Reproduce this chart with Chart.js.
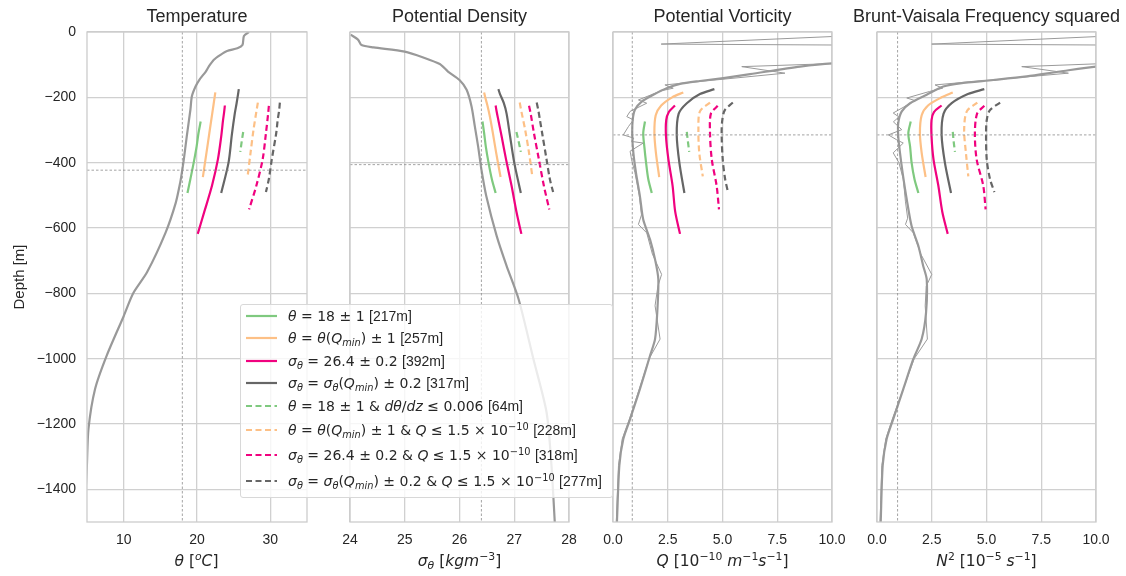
<!DOCTYPE html>
<html>
<head>
<meta charset="utf-8">
<script src="https://cdn.jsdelivr.net/npm/chart.js@4.4.1/dist/chart.umd.min.js"></script>
<style>
  body { margin: 0; background: #fff; }
  #wrap { position: relative; width: 1126px; height: 576px; overflow: hidden; }
  #wrap canvas { position: absolute; left: 0; top: 0; }
  .xt { position: absolute; top: 552px; width: 219px; text-align: center; font: 15.5px 'DejaVu Sans'; line-height: 18px; color: #262626; white-space: nowrap; }
  #legend { position: absolute; left: 240px; top: 304px; width: 371px; height: 192px; background: rgba(255,255,255,0.8); border: 1px solid #d8d8d8; border-radius: 3px; }
  .row { position: absolute; left: 5px; height: 20px; display: flex; align-items: center; white-space: nowrap; font: 14px 'DejaVu Sans'; color: #262626; }
  .row svg { margin-right: 11px; flex: none; }
  .t { font-family: 'Liberation Sans'; }
  sub, sup { font-size: 70%; line-height: 0; }
  sub { vertical-align: -0.3em; }
  sup { vertical-align: 0.55em; }
</style>
</head>
<body>
<div id="wrap">
  <canvas id="c0" width="1126" height="576"></canvas>
  <canvas id="c1" width="1126" height="576"></canvas>
  <canvas id="c2" width="1126" height="576"></canvas>
  <canvas id="c3" width="1126" height="576"></canvas>
  <div class="xt" style="left:87px"><i>θ</i> [<sup><i>o</i></sup><i>C</i>]</div>
  <div class="xt" style="left:350px"><i>σ</i><sub><i>θ</i></sub> [<i>kgm</i><sup>−3</sup>]</div>
  <div class="xt" style="left:613px"><i>Q</i> [10<sup>−10</sup> <i>m</i><sup>−1</sup><i>s</i><sup>−1</sup>]</div>
  <div class="xt" style="left:877px"><i>N</i><sup>2</sup> [10<sup>−5</sup> <i>s</i><sup>−1</sup>]</div>
  <div id="legend"></div>
</div>
<script>
/* 데이터 */
const panelTitles = ['Temperature', 'Potential Density', 'Potential Vorticity', 'Brunt-Vaisala Frequency squared'];
const depthTicks = [0, -200, -400, -600, -800, -1000, -1200, -1400];
const depthLabels = ['0', '−200', '−400', '−600', '−800', '−1000', '−1200', '−1400'];
const tempTicks = [10, 20, 30];
const densTicks = [24, 25, 26, 27, 28];
const pvTicks = [0, 2.5, 5, 7.5, 10];
const pvLabels = ['0.0', '2.5', '5.0', '7.5', '10.0'];

// 전체 프로파일
const tempDepth = [0, -12, -40, -50, -58, -70, -85, -106, -121, -147, -167, -197, -238, -320, -391, -421, -462, -523, -615, -735, -800, -870, -990, -1093, -1215, -1330, -1500];
const tempVal = [27.1, 26.4, 26.2, 25.5, 24.1, 23.2, 22.3, 21.6, 21.2, 20.3, 19.8, 19.3, 19.1, 18.6, 18.2, 18.0, 17.7, 17.1, 15.7, 13.2, 11.3, 10.0, 7.7, 6.1, 5.2, 4.98, 4.6];
const densDepth = [-8, -24, -40, -47, -60, -78, -98, -121, -147, -177, -228, -289, -350, -421, -503, -625, -716, -818, -1001, -1164, -1327, -1500];
const densVal = [24.01, 24.15, 24.21, 24.43, 25.0, 25.34, 25.64, 25.79, 26.0, 26.13, 26.22, 26.28, 26.34, 26.40, 26.49, 26.68, 26.86, 27.08, 27.35, 27.59, 27.68, 27.74];
const pvDepth = [0, -60, -96, -106, -129, -141, -150, -159, -172, -192, -213, -238, -269, -315, -370, -431, -503, -574, -635, -696, -757, -859, -940, -991, -1093, -1185, -1246, -1327, -1500];
const pvVal = [25, 20, 10, 8.54, 6.26, 5.04, 3.97, 3.06, 2.45, 1.84, 1.31, 1.0, 0.9, 0.88, 0.93, 1.05, 1.23, 1.38, 1.69, 1.92, 2.07, 2.02, 1.92, 1.69, 1.23, 0.78, 0.47, 0.29, 0.18];
const pvRawDepth = [-5, -37, -42, -90, -106, -126, -162, -172, -180, -208, -218, -243, -259, -269, -290, -315, -325, -335, -340, -365, -391, -430, -500, -560, -589, -615, -680, -742, -778, -838, -940, -1000, -1093, -1185, -1246, -1327, -1500];
const pvRaw = [13, 2.2, 16, 13, 5.88, 7.85, 2.37, 2.75, 2.2, 1.16, 1.54, 0.78, 0.63, 0.93, 0.7, 0.47, 0.95, 0.85, 1.38, 0.78, 0.85, 1.0, 1.2, 1.3, 1.16, 1.54, 1.8, 2.22, 2.05, 1.92, 2.15, 1.65, 1.2, 0.75, 0.42, 0.25, 0.15];
const n2Depth = [0, -60, -106, -121, -136, -147, -157, -167, -192, -218, -243, -279, -320, -370, -431, -513, -594, -655, -716, -757, -859, -940, -1001, -1093, -1185, -1246, -1327, -1500];
const n2Val = [25, 20, 10, 8.36, 6.84, 5.31, 3.79, 3.03, 2.27, 1.51, 1.13, 0.97, 0.97, 1.05, 1.17, 1.36, 1.58, 1.89, 2.11, 2.27, 2.24, 2.04, 1.66, 1.20, 0.74, 0.44, 0.26, 0.17];
const n2RawDepth = [-5, -37, -42, -90, -106, -126, -162, -172, -182, -202, -210, -248, -260, -275, -299, -315, -330, -340, -370, -400, -450, -520, -570, -589, -615, -680, -742, -778, -838, -940, -1000, -1093, -1185, -1246, -1327, -1500];
const n2Raw = [13, 2.5, 16, 13, 6.61, 8.74, 2.65, 3.0, 2.4, 1.36, 1.74, 0.74, 1.0, 0.75, 1.13, 0.52, 0.9, 1.2, 0.74, 1.0, 1.2, 1.3, 1.4, 1.3, 1.66, 2.0, 2.5, 2.25, 2.2, 2.3, 1.7, 1.2, 0.7, 0.4, 0.22, 0.14];

// 기준선 (세로값, 가로 깊이)
const refValue = [18, 26.4, 0.88, 0.94];
const refDepth = [-423, -406, -315, -315];

// 구간별 깊이
const depthG = [-274, -310, -350, -400, -450, -493];
const depthO = [-185, -200, -225, -255, -310, -370, -444];
const depthP = [-225, -245, -270, -320, -390, -470, -550, -618];
const depthD = [-175, -190, -218, -250, -315, -400, -493];
const depthGD = [-306, -335, -367];
const depthOD = [-216, -243, -300, -370, -442];
const depthPD = [-226, -250, -310, -390, -470, -543];
const depthDD = [-216, -240, -270, -310, -390, -450, -490];

// 온도 구간
const tG = [20.5, 20.2, 19.95, 19.55, 19.1, 18.7];
const tO = [22.5, 22.4, 22.24, 22.04, 21.68, 21.29, 20.8];
const tP = [23.8, 23.7, 23.55, 23.3, 22.85, 22.05, 21.0, 20.1];
const tD = [25.7, 25.6, 25.4, 25.15, 24.75, 24.3, 23.3];
const tGD = [26.3, 26.1, 25.9];
const tOD = [28.3, 28.1, 27.7, 27.3, 26.9];
const tPD = [29.8, 29.7, 29.4, 28.95, 28.1, 27.1];
const tDD = [31.3, 31.2, 31.0, 30.8, 30.2, 29.8, 29.4];
// 밀도 구간
const dG = [26.42, 26.45, 26.48, 26.53, 26.59, 26.66];
const dO = [26.45, 26.47, 26.51, 26.55, 26.61, 26.67, 26.75];
const dP = [26.66, 26.68, 26.71, 26.77, 26.85, 26.95, 27.04, 27.13];
const dD = [26.71, 26.74, 26.81, 26.86, 26.92, 27.0, 27.12];
const dGD = [27.04, 27.08, 27.12];
const dOD = [27.10, 27.13, 27.2, 27.27, 27.33];
const dPD = [27.27, 27.3, 27.36, 27.45, 27.54, 27.64];
const dDD = [27.41, 27.44, 27.47, 27.51, 27.59, 27.65, 27.71];
// 와도 구간
const qG = [1.46, 1.38, 1.43, 1.51, 1.61, 1.77];
const qO = [3.21, 2.7, 2.2, 1.95, 1.89, 1.96, 2.11];
const qP = [2.83, 2.55, 2.43, 2.42, 2.53, 2.72, 2.84, 3.06];
const qD = [4.63, 3.97, 3.37, 3.0, 2.91, 3.03, 3.26];
const qGD = [3.37, 3.42, 3.48];
const qOD = [4.43, 3.97, 3.90, 3.94, 4.10];
const qPD = [4.78, 4.47, 4.43, 4.51, 4.73, 4.84];
const qDD = [5.47, 5.1, 4.99, 4.96, 5.01, 5.12, 5.25];
// N2 구간
const nG = [1.54, 1.43, 1.51, 1.58, 1.71, 1.89];
const nO = [3.46, 2.95, 2.33, 2.04, 1.96, 2.04, 2.22];
const nP = [2.95, 2.6, 2.49, 2.49, 2.58, 2.8, 2.98, 3.23];
const nD = [4.9, 4.15, 3.41, 3.04, 2.95, 3.1, 3.38];
const nGD = [3.46, 3.5, 3.56];
const nOD = [4.58, 4.10, 3.98, 4.06, 4.17];
const nPD = [4.90, 4.57, 4.47, 4.55, 4.85, 4.96];
const nDD = [5.62, 5.15, 5.01, 4.98, 5.01, 5.16, 5.36];

const legendLabels = [
  '<i>θ</i> = 18 ± 1 <span class="t">[217m]</span>',
  '<i>θ</i> = <i>θ</i>(<i>Q</i><sub><i>min</i></sub>) ± 1 <span class="t">[257m]</span>',
  '<i>σ</i><sub><i>θ</i></sub> = 26.4 ± 0.2 <span class="t">[392m]</span>',
  '<i>σ</i><sub><i>θ</i></sub> = <i>σ</i><sub><i>θ</i></sub>(<i>Q</i><sub><i>min</i></sub>) ± 0.2 <span class="t">[317m]</span>',
  '<i>θ</i> = 18 ± 1 &amp; <i>dθ</i>/<i>dz</i> ≤ 0.006 <span class="t">[64m]</span>',
  '<i>θ</i> = <i>θ</i>(<i>Q</i><sub><i>min</i></sub>) ± 1 &amp; <i>Q</i> ≤ 1.5 × 10<sup>−10</sup> <span class="t">[228m]</span>',
  '<i>σ</i><sub><i>θ</i></sub> = 26.4 ± 0.2 &amp; <i>Q</i> ≤ 1.5 × 10<sup>−10</sup> <span class="t">[318m]</span>',
  '<i>σ</i><sub><i>θ</i></sub> = <i>σ</i><sub><i>θ</i></sub>(<i>Q</i><sub><i>min</i></sub>) ± 0.2 &amp; <i>Q</i> ≤ 1.5 × 10<sup>−10</sup> <span class="t">[277m]</span>'
];

/* 스타일 / 배치 */
const W = 1126;
const panelLeft = [87, 350, 613, 877];
const panelRight = [307, 569, 832, 1096];
const legendRowTop = [0.7, 23.3, 45.7, 68.3, 90.7, 114.5, 140, 165.7];
const segColor = ['#7fc97f', '#fdc086', '#f0027f', '#666666', '#7fc97f', '#fdc086', '#f0027f', '#666666'];
const segDash = [[], [], [], [], [6, 3.5], [6, 3.5], [6, 3.5], [6, 3.5]];
const segDepths = [depthG, depthO, depthP, depthD, depthGD, depthOD, depthPD, depthDD];
const textColor = '#262626';
const gridColor = '#d0d0d0';

Chart.defaults.font.family = "'Liberation Sans', Arial, sans-serif";

function xy(depth, vals) {
  return depth.map((d, i) => ({ x: vals[i], y: d }));
}

// 테두리 (4면)
const frame = {
  id: 'frame',
  afterDatasetsDraw(chart) {
    const a = chart.chartArea, ctx = chart.ctx;
    ctx.save();
    ctx.strokeStyle = '#cccccc';
    ctx.lineWidth = 1.3;
    ctx.strokeRect(a.left, a.top, a.right - a.left, a.bottom - a.top);
    ctx.restore();
  }
};

// 패널 제목 (너비 제한 없이)
const panelTitle = {
  id: 'panelTitle',
  afterDraw(chart, args, opts) {
    const a = chart.chartArea, ctx = chart.ctx;
    ctx.save();
    ctx.font = "18px 'Liberation Sans', Arial, sans-serif";
    ctx.fillStyle = textColor;
    ctx.textAlign = 'center';
    ctx.textBaseline = 'middle';
    ctx.fillText(opts.text, (a.left + a.right) / 2, 17);
    ctx.restore();
  }
};

function makePanel(i, xMin, xMax, xTicks, xLabels, raw, profile, segVals) {
  const ds = [];
  // 기준선
  ds.push({ data: [{ x: refValue[i], y: 0 }, { x: refValue[i], y: -1500 }], borderColor: '#8c8c8c', borderWidth: 0.8, borderDash: [2.5, 2] });
  ds.push({ data: [{ x: xMin, y: refDepth[i] }, { x: xMax, y: refDepth[i] }], borderColor: '#8c8c8c', borderWidth: 0.8, borderDash: [2.5, 2] });
  if (raw) {
    ds.push({ data: xy(raw[0], raw[1]), borderColor: '#9a9a9a', borderWidth: 1, tension: 0 });
  }
  ds.push({ data: xy(profile[0], profile[1]), borderColor: '#999999', borderWidth: 2.2, tension: 0.25 });
  segVals.forEach((v, k) => {
    ds.push({ data: xy(segDepths[k], v), borderColor: segColor[k], borderWidth: 2.2, borderDash: segDash[k], tension: 0.3 });
  });
  ds.forEach(d => { d.showLine = true; d.pointRadius = 0; d.fill = false; });

  new Chart(document.getElementById('c' + i), {
    type: 'scatter',
    data: { datasets: ds },
    options: {
      responsive: false,
      animation: false,
      events: [],
      layout: { padding: { left: i == 0 ? 0 : panelLeft[i], right: W - panelRight[i], top: 32, bottom: 0 } },
      plugins: {
        legend: { display: false },
        tooltip: { enabled: false },
        title: { display: false },
        panelTitle: { text: panelTitles[i] }
      },
      scales: {
        x: {
          type: 'linear', min: xMin, max: xMax,
          afterBuildTicks: s => { s.ticks = xTicks.map(v => ({ value: v })); },
          afterFit: s => { s.height = 54; },
          ticks: { callback: (v, k) => xLabels[k], color: textColor, font: { size: 14 }, padding: 10, maxRotation: 0, autoSkip: false },
          grid: { color: gridColor, lineWidth: 1.3, drawTicks: false },
          border: { display: false }
        },
        y: {
          type: 'linear', min: -1500, max: 0,
          afterBuildTicks: s => { s.ticks = depthTicks.map(v => ({ value: v })); },
          afterFit: s => { s.width = i == 0 ? panelLeft[0] : 0; },
          ticks: { display: i == 0, callback: (v, k) => depthLabels[k], color: textColor, font: { size: 14 }, padding: 11, autoSkip: false },
          title: { display: i == 0, text: 'Depth [m]', color: textColor, font: { size: 15 }, padding: { top: 11, bottom: 0 } },
          grid: { color: gridColor, lineWidth: 1.3, drawTicks: false },
          border: { display: false }
        }
      }
    },
    plugins: [frame, panelTitle]
  });
}

makePanel(0, 5, 35, tempTicks, tempTicks.map(String), null, [tempDepth, tempVal], [tG, tO, tP, tD, tGD, tOD, tPD, tDD]);
makePanel(1, 24, 28, densTicks, densTicks.map(String), null, [densDepth, densVal], [dG, dO, dP, dD, dGD, dOD, dPD, dDD]);
makePanel(2, 0, 10, pvTicks, pvLabels, [pvRawDepth, pvRaw], [pvDepth, pvVal], [qG, qO, qP, qD, qGD, qOD, qPD, qDD]);
makePanel(3, 0, 10, pvTicks, pvLabels, [n2RawDepth, n2Raw], [n2Depth, n2Val], [nG, nO, nP, nD, nGD, nOD, nPD, nDD]);

// 범례
const legend = document.getElementById('legend');
legendLabels.forEach((txt, k) => {
  const row = document.createElement('div');
  row.className = 'row';
  row.style.top = legendRowTop[k] + 'px';
  const dash = segDash[k].length ? ' stroke-dasharray="' + segDash[k].join(' ') + '"' : '';
  row.innerHTML = '<svg width="31" height="6"><line x1="0" y1="3" x2="31" y2="3" stroke="' + segColor[k] + '" stroke-width="2.2"' + dash + '/></svg><span>' + txt + '</span>';
  legend.appendChild(row);
});
</script>
</body>
</html>
